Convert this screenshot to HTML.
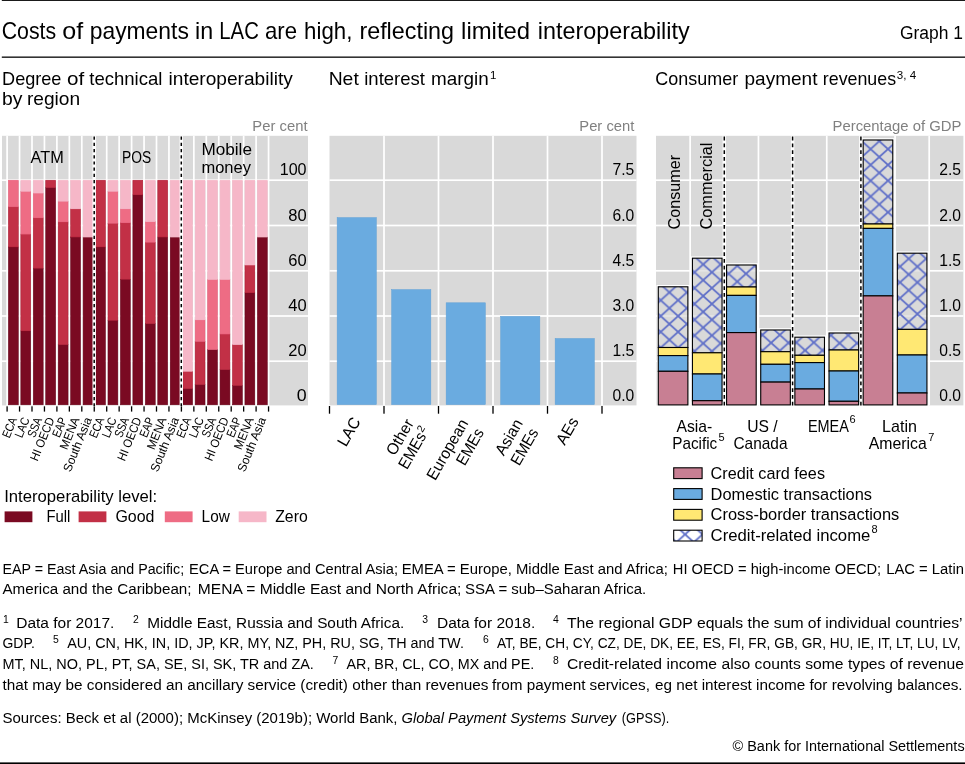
<!DOCTYPE html>
<html lang="en"><head><meta charset="utf-8"><title>Graph 1</title>
<style>
html,body{margin:0;padding:0;background:#fff}
body{width:965px;height:764px;overflow:hidden}
svg{display:block;font-family:"Liberation Sans", sans-serif}
svg text{white-space:pre}
</style></head><body>
<svg width="965" height="764" viewBox="0 0 965 764">
<rect x="1.8" y="0" width="963.2" height="0.9" fill="#000"/>
<rect x="1.8" y="56.4" width="963.2" height="1.6" fill="#333"/>
<rect x="0" y="762.4" width="965" height="1.6" fill="#000"/>
<text x="1.72" y="38.50" font-size="24" textLength="54.4" lengthAdjust="spacingAndGlyphs">Costs</text>
<text x="62.32" y="38.50" font-size="24" textLength="20.9" lengthAdjust="spacingAndGlyphs">of</text>
<text x="89.72" y="38.50" font-size="24" textLength="99.1" lengthAdjust="spacingAndGlyphs">payments</text>
<text x="195.02" y="38.50" font-size="24" textLength="18.1" lengthAdjust="spacingAndGlyphs">in</text>
<text x="219.32" y="38.50" font-size="24" textLength="39.5" lengthAdjust="spacingAndGlyphs">LAC</text>
<text x="265.02" y="38.50" font-size="24" textLength="32.0" lengthAdjust="spacingAndGlyphs">are</text>
<text x="304.12" y="38.50" font-size="24" textLength="48.2" lengthAdjust="spacingAndGlyphs">high,</text>
<text x="359.42" y="38.50" font-size="24" textLength="94.6" lengthAdjust="spacingAndGlyphs">reflecting</text>
<text x="461.12" y="38.50" font-size="24" textLength="69.0" lengthAdjust="spacingAndGlyphs">limited</text>
<text x="537.82" y="38.50" font-size="24" textLength="151.8" lengthAdjust="spacingAndGlyphs">interoperability</text>
<text x="963.00" y="38.80" font-size="18" text-anchor="end" textLength="63" lengthAdjust="spacingAndGlyphs">Graph 1</text>
<text x="2.06" y="84.60" font-size="18.6" textLength="59.4" lengthAdjust="spacingAndGlyphs">Degree</text>
<text x="66.96" y="84.60" font-size="18.6" textLength="17.2" lengthAdjust="spacingAndGlyphs">of</text>
<text x="89.26" y="84.60" font-size="18.6" textLength="73.2" lengthAdjust="spacingAndGlyphs">technical</text>
<text x="168.56" y="84.60" font-size="18.6" textLength="124.3" lengthAdjust="spacingAndGlyphs">interoperability</text>
<text x="2.06" y="105.00" font-size="18.6" textLength="20.4" lengthAdjust="spacingAndGlyphs">by</text>
<text x="26.96" y="105.00" font-size="18.6" textLength="53.2" lengthAdjust="spacingAndGlyphs">region</text>
<text x="328.66" y="84.50" font-size="18.6" textLength="30.1" lengthAdjust="spacingAndGlyphs">Net</text>
<text x="364.26" y="84.50" font-size="18.6" textLength="60.7" lengthAdjust="spacingAndGlyphs">interest</text>
<text x="431.06" y="84.50" font-size="18.6" textLength="57.7" lengthAdjust="spacingAndGlyphs">margin</text>
<text x="490.00" y="79.00" font-size="11.5">1</text>
<text x="655.36" y="84.50" font-size="18.6" textLength="82.8" lengthAdjust="spacingAndGlyphs">Consumer</text>
<text x="744.56" y="84.50" font-size="18.6" textLength="72.9" lengthAdjust="spacingAndGlyphs">payment</text>
<text x="822.86" y="84.50" font-size="18.6" textLength="73.2" lengthAdjust="spacingAndGlyphs">revenues</text>
<text x="896.80" y="79.00" font-size="11.5" textLength="19.3" lengthAdjust="spacingAndGlyphs">3, 4</text>
<rect x="2.0" y="135.8" width="306.0" height="269.59999999999997" fill="#d9d9d9"/>
<rect x="6.25" y="135.8" width="1.7" height="269.59999999999997" fill="#fff"/>
<rect x="18.70" y="135.8" width="1.7" height="269.59999999999997" fill="#fff"/>
<rect x="31.15" y="135.8" width="1.7" height="269.59999999999997" fill="#fff"/>
<rect x="43.60" y="135.8" width="1.7" height="269.59999999999997" fill="#fff"/>
<rect x="56.05" y="135.8" width="1.7" height="269.59999999999997" fill="#fff"/>
<rect x="68.50" y="135.8" width="1.7" height="269.59999999999997" fill="#fff"/>
<rect x="80.95" y="135.8" width="1.7" height="269.59999999999997" fill="#fff"/>
<rect x="93.40" y="135.8" width="1.7" height="269.59999999999997" fill="#fff"/>
<rect x="105.85" y="135.8" width="1.7" height="269.59999999999997" fill="#fff"/>
<rect x="118.30" y="135.8" width="1.7" height="269.59999999999997" fill="#fff"/>
<rect x="130.75" y="135.8" width="1.7" height="269.59999999999997" fill="#fff"/>
<rect x="143.20" y="135.8" width="1.7" height="269.59999999999997" fill="#fff"/>
<rect x="155.65" y="135.8" width="1.7" height="269.59999999999997" fill="#fff"/>
<rect x="168.10" y="135.8" width="1.7" height="269.59999999999997" fill="#fff"/>
<rect x="180.55" y="135.8" width="1.7" height="269.59999999999997" fill="#fff"/>
<rect x="193.00" y="135.8" width="1.7" height="269.59999999999997" fill="#fff"/>
<rect x="205.45" y="135.8" width="1.7" height="269.59999999999997" fill="#fff"/>
<rect x="217.90" y="135.8" width="1.7" height="269.59999999999997" fill="#fff"/>
<rect x="230.35" y="135.8" width="1.7" height="269.59999999999997" fill="#fff"/>
<rect x="242.80" y="135.8" width="1.7" height="269.59999999999997" fill="#fff"/>
<rect x="255.25" y="135.8" width="1.7" height="269.59999999999997" fill="#fff"/>
<rect x="267.70" y="135.8" width="1.7" height="269.59999999999997" fill="#fff"/>
<rect x="2.0" y="179.35" width="306.0" height="1.7" fill="#fff"/>
<rect x="2.0" y="224.65" width="306.0" height="1.7" fill="#fff"/>
<rect x="2.0" y="269.95" width="306.0" height="1.7" fill="#fff"/>
<rect x="2.0" y="315.15" width="306.0" height="1.7" fill="#fff"/>
<rect x="2.0" y="360.35" width="306.0" height="1.7" fill="#fff"/>
<rect x="8.40" y="246.98" width="9.85" height="157.82" fill="#7a0a22" stroke="#6a0018" stroke-width="0.5"/>
<rect x="8.40" y="206.82" width="9.85" height="40.16" fill="#c23046" stroke="#b01830" stroke-width="0.5"/>
<rect x="8.40" y="180.20" width="9.85" height="26.62" fill="#ee6c84" stroke="#e85c78" stroke-width="0.5"/>
<rect x="20.85" y="330.90" width="9.85" height="73.90" fill="#7a0a22" stroke="#6a0018" stroke-width="0.5"/>
<rect x="20.85" y="234.12" width="9.85" height="96.78" fill="#c23046" stroke="#b01830" stroke-width="0.5"/>
<rect x="20.85" y="191.25" width="9.85" height="42.86" fill="#ee6c84" stroke="#e85c78" stroke-width="0.5"/>
<rect x="20.85" y="180.20" width="9.85" height="11.05" fill="#f6b7c8" stroke="#f6b7c8" stroke-width="0.5"/>
<rect x="33.30" y="268.18" width="9.85" height="136.62" fill="#7a0a22" stroke="#6a0018" stroke-width="0.5"/>
<rect x="33.30" y="217.88" width="9.85" height="50.31" fill="#c23046" stroke="#b01830" stroke-width="0.5"/>
<rect x="33.30" y="193.06" width="9.85" height="24.82" fill="#ee6c84" stroke="#e85c78" stroke-width="0.5"/>
<rect x="33.30" y="180.20" width="9.85" height="12.86" fill="#f6b7c8" stroke="#f6b7c8" stroke-width="0.5"/>
<rect x="45.75" y="187.64" width="9.85" height="217.16" fill="#7a0a22" stroke="#6a0018" stroke-width="0.5"/>
<rect x="45.75" y="180.20" width="9.85" height="7.44" fill="#c23046" stroke="#b01830" stroke-width="0.5"/>
<rect x="58.20" y="344.66" width="9.85" height="60.14" fill="#7a0a22" stroke="#6a0018" stroke-width="0.5"/>
<rect x="58.20" y="221.94" width="9.85" height="122.73" fill="#c23046" stroke="#b01830" stroke-width="0.5"/>
<rect x="58.20" y="201.18" width="9.85" height="20.76" fill="#ee6c84" stroke="#e85c78" stroke-width="0.5"/>
<rect x="58.20" y="180.20" width="9.85" height="20.98" fill="#f6b7c8" stroke="#f6b7c8" stroke-width="0.5"/>
<rect x="70.65" y="237.05" width="9.85" height="167.75" fill="#7a0a22" stroke="#6a0018" stroke-width="0.5"/>
<rect x="70.65" y="208.85" width="9.85" height="28.20" fill="#c23046" stroke="#b01830" stroke-width="0.5"/>
<rect x="70.65" y="180.20" width="9.85" height="28.65" fill="#f6b7c8" stroke="#f6b7c8" stroke-width="0.5"/>
<rect x="83.10" y="237.05" width="9.85" height="167.75" fill="#7a0a22" stroke="#6a0018" stroke-width="0.5"/>
<rect x="83.10" y="180.20" width="9.85" height="56.85" fill="#f6b7c8" stroke="#f6b7c8" stroke-width="0.5"/>
<rect x="95.55" y="246.98" width="9.85" height="157.82" fill="#7a0a22" stroke="#6a0018" stroke-width="0.5"/>
<rect x="95.55" y="180.20" width="9.85" height="66.78" fill="#c23046" stroke="#b01830" stroke-width="0.5"/>
<rect x="108.00" y="320.30" width="9.85" height="84.50" fill="#7a0a22" stroke="#6a0018" stroke-width="0.5"/>
<rect x="108.00" y="223.29" width="9.85" height="97.01" fill="#c23046" stroke="#b01830" stroke-width="0.5"/>
<rect x="108.00" y="191.25" width="9.85" height="32.04" fill="#ee6c84" stroke="#e85c78" stroke-width="0.5"/>
<rect x="108.00" y="180.20" width="9.85" height="11.05" fill="#f6b7c8" stroke="#f6b7c8" stroke-width="0.5"/>
<rect x="120.45" y="279.24" width="9.85" height="125.56" fill="#7a0a22" stroke="#6a0018" stroke-width="0.5"/>
<rect x="120.45" y="222.84" width="9.85" height="56.40" fill="#c23046" stroke="#b01830" stroke-width="0.5"/>
<rect x="120.45" y="208.85" width="9.85" height="13.99" fill="#ee6c84" stroke="#e85c78" stroke-width="0.5"/>
<rect x="120.45" y="180.20" width="9.85" height="28.65" fill="#f6b7c8" stroke="#f6b7c8" stroke-width="0.5"/>
<rect x="132.90" y="194.86" width="9.85" height="209.94" fill="#7a0a22" stroke="#6a0018" stroke-width="0.5"/>
<rect x="132.90" y="180.20" width="9.85" height="14.66" fill="#c23046" stroke="#b01830" stroke-width="0.5"/>
<rect x="145.35" y="323.68" width="9.85" height="81.12" fill="#7a0a22" stroke="#6a0018" stroke-width="0.5"/>
<rect x="145.35" y="242.24" width="9.85" height="81.44" fill="#c23046" stroke="#b01830" stroke-width="0.5"/>
<rect x="145.35" y="221.71" width="9.85" height="20.53" fill="#ee6c84" stroke="#e85c78" stroke-width="0.5"/>
<rect x="145.35" y="180.20" width="9.85" height="41.51" fill="#f6b7c8" stroke="#f6b7c8" stroke-width="0.5"/>
<rect x="157.80" y="237.05" width="9.85" height="167.75" fill="#7a0a22" stroke="#6a0018" stroke-width="0.5"/>
<rect x="157.80" y="180.20" width="9.85" height="56.85" fill="#c23046" stroke="#b01830" stroke-width="0.5"/>
<rect x="170.25" y="237.05" width="9.85" height="167.75" fill="#7a0a22" stroke="#6a0018" stroke-width="0.5"/>
<rect x="170.25" y="180.20" width="9.85" height="56.85" fill="#f6b7c8" stroke="#f6b7c8" stroke-width="0.5"/>
<rect x="182.70" y="388.65" width="9.85" height="16.15" fill="#7a0a22" stroke="#6a0018" stroke-width="0.5"/>
<rect x="182.70" y="371.28" width="9.85" height="17.37" fill="#c23046" stroke="#b01830" stroke-width="0.5"/>
<rect x="182.70" y="180.20" width="9.85" height="191.08" fill="#f6b7c8" stroke="#f6b7c8" stroke-width="0.5"/>
<rect x="195.15" y="384.59" width="9.85" height="20.21" fill="#7a0a22" stroke="#6a0018" stroke-width="0.5"/>
<rect x="195.15" y="341.50" width="9.85" height="43.09" fill="#c23046" stroke="#b01830" stroke-width="0.5"/>
<rect x="195.15" y="319.85" width="9.85" height="21.66" fill="#ee6c84" stroke="#e85c78" stroke-width="0.5"/>
<rect x="195.15" y="180.20" width="9.85" height="139.65" fill="#f6b7c8" stroke="#f6b7c8" stroke-width="0.5"/>
<rect x="207.60" y="349.63" width="9.85" height="55.17" fill="#7a0a22" stroke="#6a0018" stroke-width="0.5"/>
<rect x="207.60" y="279.46" width="9.85" height="70.16" fill="#ee6c84" stroke="#e85c78" stroke-width="0.5"/>
<rect x="207.60" y="180.20" width="9.85" height="99.26" fill="#f6b7c8" stroke="#f6b7c8" stroke-width="0.5"/>
<rect x="220.05" y="369.70" width="9.85" height="35.10" fill="#7a0a22" stroke="#6a0018" stroke-width="0.5"/>
<rect x="220.05" y="334.06" width="9.85" height="35.64" fill="#c23046" stroke="#b01830" stroke-width="0.5"/>
<rect x="220.05" y="279.46" width="9.85" height="54.60" fill="#ee6c84" stroke="#e85c78" stroke-width="0.5"/>
<rect x="220.05" y="180.20" width="9.85" height="99.26" fill="#f6b7c8" stroke="#f6b7c8" stroke-width="0.5"/>
<rect x="232.50" y="385.50" width="9.85" height="19.30" fill="#7a0a22" stroke="#6a0018" stroke-width="0.5"/>
<rect x="232.50" y="344.66" width="9.85" height="40.83" fill="#c23046" stroke="#b01830" stroke-width="0.5"/>
<rect x="232.50" y="180.20" width="9.85" height="164.46" fill="#f6b7c8" stroke="#f6b7c8" stroke-width="0.5"/>
<rect x="244.95" y="292.77" width="9.85" height="112.03" fill="#7a0a22" stroke="#6a0018" stroke-width="0.5"/>
<rect x="244.95" y="265.03" width="9.85" height="27.75" fill="#c23046" stroke="#b01830" stroke-width="0.5"/>
<rect x="244.95" y="180.20" width="9.85" height="84.83" fill="#f6b7c8" stroke="#f6b7c8" stroke-width="0.5"/>
<rect x="257.40" y="237.05" width="9.85" height="167.75" fill="#7a0a22" stroke="#6a0018" stroke-width="0.5"/>
<rect x="257.40" y="180.20" width="9.85" height="56.85" fill="#f6b7c8" stroke="#f6b7c8" stroke-width="0.5"/>
<rect x="92.5" y="135.8" width="3.4" height="269.59999999999997" fill="#fff"/>
<line x1="94.2" y1="136.60000000000002" x2="94.2" y2="406.0" stroke="#000" stroke-width="1.5" stroke-dasharray="3.2 3"/>
<rect x="179.60000000000002" y="135.8" width="3.4" height="269.59999999999997" fill="#fff"/>
<line x1="181.3" y1="136.60000000000002" x2="181.3" y2="406.0" stroke="#000" stroke-width="1.5" stroke-dasharray="3.2 3"/>
<rect x="6.45" y="406.3" width="1.3" height="5.3" fill="#000"/>
<rect x="18.90" y="406.3" width="1.3" height="5.3" fill="#000"/>
<rect x="31.35" y="406.3" width="1.3" height="5.3" fill="#000"/>
<rect x="43.80" y="406.3" width="1.3" height="5.3" fill="#000"/>
<rect x="56.25" y="406.3" width="1.3" height="5.3" fill="#000"/>
<rect x="68.70" y="406.3" width="1.3" height="5.3" fill="#000"/>
<rect x="81.15" y="406.3" width="1.3" height="5.3" fill="#000"/>
<rect x="93.60" y="406.3" width="1.3" height="5.3" fill="#000"/>
<rect x="106.05" y="406.3" width="1.3" height="5.3" fill="#000"/>
<rect x="118.50" y="406.3" width="1.3" height="5.3" fill="#000"/>
<rect x="130.95" y="406.3" width="1.3" height="5.3" fill="#000"/>
<rect x="143.40" y="406.3" width="1.3" height="5.3" fill="#000"/>
<rect x="155.85" y="406.3" width="1.3" height="5.3" fill="#000"/>
<rect x="168.30" y="406.3" width="1.3" height="5.3" fill="#000"/>
<rect x="180.75" y="406.3" width="1.3" height="5.3" fill="#000"/>
<rect x="193.20" y="406.3" width="1.3" height="5.3" fill="#000"/>
<rect x="205.65" y="406.3" width="1.3" height="5.3" fill="#000"/>
<rect x="218.10" y="406.3" width="1.3" height="5.3" fill="#000"/>
<rect x="230.55" y="406.3" width="1.3" height="5.3" fill="#000"/>
<rect x="243.00" y="406.3" width="1.3" height="5.3" fill="#000"/>
<rect x="255.45" y="406.3" width="1.3" height="5.3" fill="#000"/>
<rect x="267.90" y="406.3" width="1.3" height="5.3" fill="#000"/>
<text transform="translate(17.32 419.40) rotate(-68)" font-size="12.2" text-anchor="end" textLength="21" lengthAdjust="spacingAndGlyphs">ECA</text>
<text transform="translate(29.77 419.40) rotate(-68)" font-size="12.2" text-anchor="end" textLength="20.6" lengthAdjust="spacingAndGlyphs">LAC</text>
<text transform="translate(42.23 419.40) rotate(-68)" font-size="12.2" text-anchor="end" textLength="20.3" lengthAdjust="spacingAndGlyphs">SSA</text>
<text transform="translate(54.67 419.40) rotate(-68)" font-size="12.2" text-anchor="end" textLength="45.6" lengthAdjust="spacingAndGlyphs">HI OECD</text>
<text transform="translate(67.12 419.40) rotate(-68)" font-size="12.2" text-anchor="end" textLength="20.3" lengthAdjust="spacingAndGlyphs">EAP</text>
<text transform="translate(79.57 419.40) rotate(-68)" font-size="12.2" text-anchor="end" textLength="33.5" lengthAdjust="spacingAndGlyphs">MENA</text>
<text transform="translate(92.02 419.40) rotate(-68)" font-size="12.2" text-anchor="end" textLength="57.5" lengthAdjust="spacingAndGlyphs">South Asia</text>
<text transform="translate(104.47 419.40) rotate(-68)" font-size="12.2" text-anchor="end" textLength="21" lengthAdjust="spacingAndGlyphs">ECA</text>
<text transform="translate(116.92 419.40) rotate(-68)" font-size="12.2" text-anchor="end" textLength="20.6" lengthAdjust="spacingAndGlyphs">LAC</text>
<text transform="translate(129.38 419.40) rotate(-68)" font-size="12.2" text-anchor="end" textLength="20.3" lengthAdjust="spacingAndGlyphs">SSA</text>
<text transform="translate(141.82 419.40) rotate(-68)" font-size="12.2" text-anchor="end" textLength="45.6" lengthAdjust="spacingAndGlyphs">HI OECD</text>
<text transform="translate(154.27 419.40) rotate(-68)" font-size="12.2" text-anchor="end" textLength="20.3" lengthAdjust="spacingAndGlyphs">EAP</text>
<text transform="translate(166.72 419.40) rotate(-68)" font-size="12.2" text-anchor="end" textLength="33.5" lengthAdjust="spacingAndGlyphs">MENA</text>
<text transform="translate(179.17 419.40) rotate(-68)" font-size="12.2" text-anchor="end" textLength="57.5" lengthAdjust="spacingAndGlyphs">South Asia</text>
<text transform="translate(191.62 419.40) rotate(-68)" font-size="12.2" text-anchor="end" textLength="21" lengthAdjust="spacingAndGlyphs">ECA</text>
<text transform="translate(204.07 419.40) rotate(-68)" font-size="12.2" text-anchor="end" textLength="20.6" lengthAdjust="spacingAndGlyphs">LAC</text>
<text transform="translate(216.52 419.40) rotate(-68)" font-size="12.2" text-anchor="end" textLength="20.3" lengthAdjust="spacingAndGlyphs">SSA</text>
<text transform="translate(228.97 419.40) rotate(-68)" font-size="12.2" text-anchor="end" textLength="45.6" lengthAdjust="spacingAndGlyphs">HI OECD</text>
<text transform="translate(241.42 419.40) rotate(-68)" font-size="12.2" text-anchor="end" textLength="20.3" lengthAdjust="spacingAndGlyphs">EAP</text>
<text transform="translate(253.87 419.40) rotate(-68)" font-size="12.2" text-anchor="end" textLength="33.5" lengthAdjust="spacingAndGlyphs">MENA</text>
<text transform="translate(266.33 419.40) rotate(-68)" font-size="12.2" text-anchor="end" textLength="57.5" lengthAdjust="spacingAndGlyphs">South Asia</text>
<text x="307.50" y="130.60" font-size="15.2" text-anchor="end" fill="#808080" textLength="55.2" lengthAdjust="spacingAndGlyphs">Per cent</text>
<text x="306.60" y="175.30" font-size="16.4" text-anchor="end" textLength="26.9" lengthAdjust="spacingAndGlyphs">100</text>
<text x="306.60" y="220.60" font-size="16.4" text-anchor="end" textLength="18.4" lengthAdjust="spacingAndGlyphs">80</text>
<text x="306.60" y="265.90" font-size="16.4" text-anchor="end" textLength="18.4" lengthAdjust="spacingAndGlyphs">60</text>
<text x="306.60" y="311.10" font-size="16.4" text-anchor="end" textLength="18.4" lengthAdjust="spacingAndGlyphs">40</text>
<text x="306.60" y="356.30" font-size="16.4" text-anchor="end" textLength="18.4" lengthAdjust="spacingAndGlyphs">20</text>
<text x="306.60" y="401.10" font-size="16.4" text-anchor="end" textLength="9.9" lengthAdjust="spacingAndGlyphs">0</text>
<text x="30.60" y="162.50" font-size="16" textLength="33.2" lengthAdjust="spacingAndGlyphs">ATM</text>
<text x="122.10" y="162.50" font-size="16" textLength="29.1" lengthAdjust="spacingAndGlyphs">POS</text>
<text x="201.40" y="154.70" font-size="16" textLength="50.6" lengthAdjust="spacingAndGlyphs">Mobile</text>
<text x="201.40" y="172.70" font-size="16" textLength="49.5" lengthAdjust="spacingAndGlyphs">money</text>
<text x="4.20" y="501.70" font-size="16.4" textLength="153" lengthAdjust="spacingAndGlyphs">Interoperability level:</text>
<rect x="4.6" y="511.4" width="27.8" height="10.8" fill="#7a0a22"/>
<text x="46.40" y="522.20" font-size="16.4" textLength="23.9" lengthAdjust="spacingAndGlyphs">Full</text>
<rect x="78.6" y="511.4" width="27.8" height="10.8" fill="#c23046"/>
<text x="115.40" y="522.20" font-size="16.4" textLength="39.1" lengthAdjust="spacingAndGlyphs">Good</text>
<rect x="164.8" y="511.4" width="27.8" height="10.8" fill="#ee6c84"/>
<text x="201.60" y="522.20" font-size="16.4" textLength="28.2" lengthAdjust="spacingAndGlyphs">Low</text>
<rect x="238.7" y="511.4" width="27.8" height="10.8" fill="#f6b7c8"/>
<text x="275.20" y="522.20" font-size="16.4" textLength="32.5" lengthAdjust="spacingAndGlyphs">Zero</text>
<rect x="329.5" y="135.8" width="307.0" height="269.59999999999997" fill="#d9d9d9"/>
<rect x="383.15" y="135.8" width="1.7" height="269.59999999999997" fill="#fff"/>
<rect x="437.65" y="135.8" width="1.7" height="269.59999999999997" fill="#fff"/>
<rect x="492.15" y="135.8" width="1.7" height="269.59999999999997" fill="#fff"/>
<rect x="546.65" y="135.8" width="1.7" height="269.59999999999997" fill="#fff"/>
<rect x="601.15" y="135.8" width="1.7" height="269.59999999999997" fill="#fff"/>
<rect x="329.5" y="179.35" width="307.0" height="1.7" fill="#fff"/>
<rect x="329.5" y="224.65" width="307.0" height="1.7" fill="#fff"/>
<rect x="329.5" y="269.95" width="307.0" height="1.7" fill="#fff"/>
<rect x="329.5" y="315.15" width="307.0" height="1.7" fill="#fff"/>
<rect x="329.5" y="360.35" width="307.0" height="1.7" fill="#fff"/>
<rect x="337.15" y="217.6" width="39.2" height="187.00" fill="#6aabe0" stroke="#5e9fd6" stroke-width="0.5"/>
<rect x="391.65" y="289.6" width="39.2" height="115.00" fill="#6aabe0" stroke="#5e9fd6" stroke-width="0.5"/>
<rect x="446.15" y="302.8" width="39.2" height="101.80" fill="#6aabe0" stroke="#5e9fd6" stroke-width="0.5"/>
<rect x="500.65" y="316.3" width="39.2" height="88.30" fill="#6aabe0" stroke="#5e9fd6" stroke-width="0.5"/>
<rect x="555.15" y="338.5" width="39.2" height="66.10" fill="#6aabe0" stroke="#5e9fd6" stroke-width="0.5"/>
<rect x="328.85" y="406.0" width="1.3" height="7.7" fill="#000"/>
<rect x="383.35" y="406.0" width="1.3" height="7.7" fill="#000"/>
<rect x="437.85" y="406.0" width="1.3" height="7.7" fill="#000"/>
<rect x="492.35" y="406.0" width="1.3" height="7.7" fill="#000"/>
<rect x="546.85" y="406.0" width="1.3" height="7.7" fill="#000"/>
<rect x="601.35" y="406.0" width="1.3" height="7.7" fill="#000"/>
<text x="634.30" y="130.60" font-size="15.2" text-anchor="end" fill="#808080" textLength="55.0" lengthAdjust="spacingAndGlyphs">Per cent</text>
<text x="634.30" y="175.30" font-size="16.4" text-anchor="end" textLength="21.8" lengthAdjust="spacingAndGlyphs">7.5</text>
<text x="634.30" y="220.60" font-size="16.4" text-anchor="end" textLength="21.8" lengthAdjust="spacingAndGlyphs">6.0</text>
<text x="634.30" y="265.90" font-size="16.4" text-anchor="end" textLength="21.8" lengthAdjust="spacingAndGlyphs">4.5</text>
<text x="634.30" y="311.10" font-size="16.4" text-anchor="end" textLength="21.8" lengthAdjust="spacingAndGlyphs">3.0</text>
<text x="634.30" y="356.30" font-size="16.4" text-anchor="end" textLength="21.8" lengthAdjust="spacingAndGlyphs">1.5</text>
<text x="634.30" y="401.10" font-size="16.4" text-anchor="end" textLength="21.8" lengthAdjust="spacingAndGlyphs">0.0</text>
<text transform="translate(361.05 421.30) rotate(-60)" font-size="16" text-anchor="end" textLength="30.2" lengthAdjust="spacingAndGlyphs">LAC</text>
<text transform="translate(414.25 423.00) rotate(-60)" font-size="16" text-anchor="end" textLength="38.8" lengthAdjust="spacingAndGlyphs">Other</text>
<text transform="translate(426.75 436.10) rotate(-60)" font-size="16" text-anchor="end" textLength="39.5" lengthAdjust="spacingAndGlyphs">EMEs</text>
<text transform="translate(422.40 433.10) rotate(-60)" font-size="10.5">2</text>
<text transform="translate(468.75 423.00) rotate(-60)" font-size="16" text-anchor="end" textLength="67.2" lengthAdjust="spacingAndGlyphs">European</text>
<text transform="translate(484.45 432.30) rotate(-60)" font-size="16" text-anchor="end" textLength="39.5" lengthAdjust="spacingAndGlyphs">EMEs</text>
<text transform="translate(523.25 423.00) rotate(-60)" font-size="16" text-anchor="end" textLength="38.8" lengthAdjust="spacingAndGlyphs">Asian</text>
<text transform="translate(538.95 432.30) rotate(-60)" font-size="16" text-anchor="end" textLength="39.5" lengthAdjust="spacingAndGlyphs">EMEs</text>
<text transform="translate(579.05 421.30) rotate(-60)" font-size="16" text-anchor="end" textLength="28.4" lengthAdjust="spacingAndGlyphs">AEs</text>
<rect x="656.0" y="135.8" width="307.4" height="269.59999999999997" fill="#d9d9d9"/>
<rect x="689.30" y="135.8" width="1.7" height="269.59999999999997" fill="#fff"/>
<rect x="722.60" y="135.8" width="3.4" height="269.59999999999997" fill="#fff"/>
<rect x="757.60" y="135.8" width="1.7" height="269.59999999999997" fill="#fff"/>
<rect x="790.90" y="135.8" width="3.4" height="269.59999999999997" fill="#fff"/>
<rect x="825.90" y="135.8" width="1.7" height="269.59999999999997" fill="#fff"/>
<rect x="859.20" y="135.8" width="3.4" height="269.59999999999997" fill="#fff"/>
<rect x="894.20" y="135.8" width="1.7" height="269.59999999999997" fill="#fff"/>
<rect x="928.35" y="135.8" width="1.7" height="269.59999999999997" fill="#fff"/>
<rect x="656.0" y="179.35" width="307.4" height="1.7" fill="#fff"/>
<rect x="656.0" y="224.65" width="307.4" height="1.7" fill="#fff"/>
<rect x="656.0" y="269.95" width="307.4" height="1.7" fill="#fff"/>
<rect x="656.0" y="315.15" width="307.4" height="1.7" fill="#fff"/>
<rect x="656.0" y="360.35" width="307.4" height="1.7" fill="#fff"/>
<defs><pattern id="hx0" patternUnits="userSpaceOnUse" x="669.4" y="292.4" width="17.4" height="15.8"><path d="M-1 -0.908 L18.4 16.708 M-1 16.708 L18.4 -0.908" stroke="#6070c8" stroke-width="1.8" fill="none"/></pattern><pattern id="hx1" patternUnits="userSpaceOnUse" x="703.2" y="264.4" width="17.4" height="15.8"><path d="M-1 -0.908 L18.4 16.708 M-1 16.708 L18.4 -0.908" stroke="#6070c8" stroke-width="1.8" fill="none"/></pattern><pattern id="hx2" patternUnits="userSpaceOnUse" x="737.3" y="281.6" width="17.4" height="15.8"><path d="M-1 -0.908 L18.4 16.708 M-1 16.708 L18.4 -0.908" stroke="#6070c8" stroke-width="1.8" fill="none"/></pattern><pattern id="hx3" patternUnits="userSpaceOnUse" x="771.1" y="342.8" width="17.4" height="15.8"><path d="M-1 -0.908 L18.4 16.708 M-1 16.708 L18.4 -0.908" stroke="#6070c8" stroke-width="1.8" fill="none"/></pattern><pattern id="hx4" patternUnits="userSpaceOnUse" x="805.1" y="350.4" width="17.4" height="15.8"><path d="M-1 -0.908 L18.4 16.708 M-1 16.708 L18.4 -0.908" stroke="#6070c8" stroke-width="1.8" fill="none"/></pattern><pattern id="hx5" patternUnits="userSpaceOnUse" x="839.6" y="343.2" width="17.4" height="15.8"><path d="M-1 -0.908 L18.4 16.708 M-1 16.708 L18.4 -0.908" stroke="#6070c8" stroke-width="1.8" fill="none"/></pattern><pattern id="hx6" patternUnits="userSpaceOnUse" x="879.3" y="141.2" width="17.4" height="15.8"><path d="M-1 -0.908 L18.4 16.708 M-1 16.708 L18.4 -0.908" stroke="#6070c8" stroke-width="1.8" fill="none"/></pattern><pattern id="hx7" patternUnits="userSpaceOnUse" x="908.7" y="258.7" width="17.4" height="15.8"><path d="M-1 -0.908 L18.4 16.708 M-1 16.708 L18.4 -0.908" stroke="#6070c8" stroke-width="1.8" fill="none"/></pattern></defs>
<rect x="657.18" y="285.70" width="31.8" height="120.30" fill="none" stroke="#fff" stroke-width="1.4"/>
<rect x="658.28" y="286.8" width="29.6" height="60.70" fill="#d9d9d9" fill-opacity="0.7"/>
<rect x="658.28" y="286.8" width="29.6" height="60.70" fill="url(#hx0)" stroke="#000" stroke-width="1.1"/>
<rect x="658.28" y="347.5" width="29.6" height="8.10" fill="#ffe873" stroke="#000" stroke-width="1.1"/>
<rect x="658.28" y="355.6" width="29.6" height="15.70" fill="#6aabe0" stroke="#000" stroke-width="1.1"/>
<rect x="658.28" y="371.3" width="29.6" height="33.60" fill="#c87f93" stroke="#000" stroke-width="1.1"/>
<rect x="691.33" y="257.10" width="31.8" height="148.90" fill="none" stroke="#fff" stroke-width="1.4"/>
<rect x="692.43" y="258.2" width="29.6" height="94.60" fill="#d9d9d9" fill-opacity="0.7"/>
<rect x="692.43" y="258.2" width="29.6" height="94.60" fill="url(#hx1)" stroke="#000" stroke-width="1.1"/>
<rect x="692.43" y="352.8" width="29.6" height="21.20" fill="#ffe873" stroke="#000" stroke-width="1.1"/>
<rect x="692.43" y="374.0" width="29.6" height="26.70" fill="#6aabe0" stroke="#000" stroke-width="1.1"/>
<rect x="692.43" y="400.7" width="29.6" height="4.20" fill="#c87f93" stroke="#000" stroke-width="1.1"/>
<rect x="725.48" y="263.90" width="31.8" height="142.10" fill="none" stroke="#fff" stroke-width="1.4"/>
<rect x="726.58" y="265.0" width="29.6" height="22.00" fill="#d9d9d9" fill-opacity="0.7"/>
<rect x="726.58" y="265.0" width="29.6" height="22.00" fill="url(#hx2)" stroke="#000" stroke-width="1.1"/>
<rect x="726.58" y="287.0" width="29.6" height="8.40" fill="#ffe873" stroke="#000" stroke-width="1.1"/>
<rect x="726.58" y="295.4" width="29.6" height="37.20" fill="#6aabe0" stroke="#000" stroke-width="1.1"/>
<rect x="726.58" y="332.6" width="29.6" height="72.30" fill="#c87f93" stroke="#000" stroke-width="1.1"/>
<rect x="759.63" y="328.90" width="31.8" height="77.10" fill="none" stroke="#fff" stroke-width="1.4"/>
<rect x="760.73" y="330.0" width="29.6" height="21.70" fill="#d9d9d9" fill-opacity="0.7"/>
<rect x="760.73" y="330.0" width="29.6" height="21.70" fill="url(#hx3)" stroke="#000" stroke-width="1.1"/>
<rect x="760.73" y="351.7" width="29.6" height="12.60" fill="#ffe873" stroke="#000" stroke-width="1.1"/>
<rect x="760.73" y="364.3" width="29.6" height="17.80" fill="#6aabe0" stroke="#000" stroke-width="1.1"/>
<rect x="760.73" y="382.1" width="29.6" height="22.80" fill="#c87f93" stroke="#000" stroke-width="1.1"/>
<rect x="793.78" y="336.10" width="31.8" height="69.90" fill="none" stroke="#fff" stroke-width="1.4"/>
<rect x="794.88" y="337.2" width="29.6" height="18.10" fill="#d9d9d9" fill-opacity="0.7"/>
<rect x="794.88" y="337.2" width="29.6" height="18.10" fill="url(#hx4)" stroke="#000" stroke-width="1.1"/>
<rect x="794.88" y="355.3" width="29.6" height="7.30" fill="#ffe873" stroke="#000" stroke-width="1.1"/>
<rect x="794.88" y="362.6" width="29.6" height="26.40" fill="#6aabe0" stroke="#000" stroke-width="1.1"/>
<rect x="794.88" y="389.0" width="29.6" height="15.90" fill="#c87f93" stroke="#000" stroke-width="1.1"/>
<rect x="827.93" y="331.90" width="31.8" height="74.10" fill="none" stroke="#fff" stroke-width="1.4"/>
<rect x="829.03" y="333.0" width="29.6" height="17.00" fill="#d9d9d9" fill-opacity="0.7"/>
<rect x="829.03" y="333.0" width="29.6" height="17.00" fill="url(#hx5)" stroke="#000" stroke-width="1.1"/>
<rect x="829.03" y="350.0" width="29.6" height="21.00" fill="#ffe873" stroke="#000" stroke-width="1.1"/>
<rect x="829.03" y="371.0" width="29.6" height="30.30" fill="#6aabe0" stroke="#000" stroke-width="1.1"/>
<rect x="829.03" y="401.3" width="29.6" height="3.60" fill="#c87f93" stroke="#000" stroke-width="1.1"/>
<rect x="862.08" y="138.90" width="31.8" height="267.10" fill="none" stroke="#fff" stroke-width="1.4"/>
<rect x="863.18" y="140.0" width="29.6" height="84.00" fill="#d9d9d9" fill-opacity="0.7"/>
<rect x="863.18" y="140.0" width="29.6" height="84.00" fill="url(#hx6)" stroke="#000" stroke-width="1.1"/>
<rect x="863.18" y="224.0" width="29.6" height="4.40" fill="#ffe873" stroke="#000" stroke-width="1.1"/>
<rect x="863.18" y="228.4" width="29.6" height="67.50" fill="#6aabe0" stroke="#000" stroke-width="1.1"/>
<rect x="863.18" y="295.9" width="29.6" height="109.00" fill="#c87f93" stroke="#000" stroke-width="1.1"/>
<rect x="896.23" y="252.10" width="31.8" height="153.90" fill="none" stroke="#fff" stroke-width="1.4"/>
<rect x="897.33" y="253.2" width="29.6" height="76.20" fill="#d9d9d9" fill-opacity="0.7"/>
<rect x="897.33" y="253.2" width="29.6" height="76.20" fill="url(#hx7)" stroke="#000" stroke-width="1.1"/>
<rect x="897.33" y="329.4" width="29.6" height="25.60" fill="#ffe873" stroke="#000" stroke-width="1.1"/>
<rect x="897.33" y="355.0" width="29.6" height="38.00" fill="#6aabe0" stroke="#000" stroke-width="1.1"/>
<rect x="897.33" y="393.0" width="29.6" height="11.90" fill="#c87f93" stroke="#000" stroke-width="1.1"/>
<line x1="724.30" y1="136.60000000000002" x2="724.30" y2="406.0" stroke="#000" stroke-width="1.5" stroke-dasharray="3.8 3"/>
<line x1="792.60" y1="136.60000000000002" x2="792.60" y2="406.0" stroke="#000" stroke-width="1.5" stroke-dasharray="3.8 3"/>
<line x1="860.90" y1="136.60000000000002" x2="860.90" y2="406.0" stroke="#000" stroke-width="1.5" stroke-dasharray="3.8 3"/>
<text x="961.40" y="130.60" font-size="15.2" text-anchor="end" fill="#808080" textLength="128.9" lengthAdjust="spacingAndGlyphs">Percentage of GDP</text>
<text x="961.10" y="175.30" font-size="16.4" text-anchor="end" textLength="21.8" lengthAdjust="spacingAndGlyphs">2.5</text>
<text x="961.10" y="220.60" font-size="16.4" text-anchor="end" textLength="21.8" lengthAdjust="spacingAndGlyphs">2.0</text>
<text x="961.10" y="265.90" font-size="16.4" text-anchor="end" textLength="21.8" lengthAdjust="spacingAndGlyphs">1.5</text>
<text x="961.10" y="311.10" font-size="16.4" text-anchor="end" textLength="21.8" lengthAdjust="spacingAndGlyphs">1.0</text>
<text x="961.10" y="356.30" font-size="16.4" text-anchor="end" textLength="21.8" lengthAdjust="spacingAndGlyphs">0.5</text>
<text x="961.10" y="401.10" font-size="16.4" text-anchor="end" textLength="21.8" lengthAdjust="spacingAndGlyphs">0.0</text>
<text transform="translate(679.80 229.50) rotate(-90)" font-size="16.2" textLength="74.6" lengthAdjust="spacingAndGlyphs">Consumer</text>
<text transform="translate(712.20 229.50) rotate(-90)" font-size="16.2" textLength="87" lengthAdjust="spacingAndGlyphs">Commercial</text>
<text x="694.40" y="431.50" font-size="16.2" text-anchor="middle" textLength="35.8" lengthAdjust="spacingAndGlyphs">Asia-</text>
<text x="672.20" y="449.00" font-size="16.2" textLength="45.1" lengthAdjust="spacingAndGlyphs">Pacific</text>
<text x="718.60" y="440.60" font-size="11">5</text>
<text x="762.40" y="431.50" font-size="16.2" text-anchor="middle" textLength="30.5" lengthAdjust="spacingAndGlyphs">US /</text>
<text x="760.50" y="449.00" font-size="16.2" text-anchor="middle" textLength="54.1" lengthAdjust="spacingAndGlyphs">Canada</text>
<text x="807.90" y="431.50" font-size="15.6" textLength="41" lengthAdjust="spacingAndGlyphs">EMEA</text>
<text x="849.60" y="423.10" font-size="11">6</text>
<text x="899.50" y="431.50" font-size="16.2" text-anchor="middle" textLength="34.9" lengthAdjust="spacingAndGlyphs">Latin</text>
<text x="868.80" y="449.00" font-size="16.2" textLength="58" lengthAdjust="spacingAndGlyphs">America</text>
<text x="928.20" y="440.60" font-size="11">7</text>
<defs><pattern id="hx2" patternUnits="userSpaceOnUse" x="679" y="529" width="17.4" height="15.8"><path d="M-1 -0.908 L18.4 16.708 M-1 16.708 L18.4 -0.908" stroke="#6070c8" stroke-width="1.8" fill="none"/></pattern></defs>
<rect x="673.7" y="467.8" width="28.4" height="10.8" fill="#c87f93" stroke="#000" stroke-width="1.1"/>
<text x="710.60" y="478.70" font-size="16.3" textLength="114.4" lengthAdjust="spacingAndGlyphs">Credit card fees</text>
<rect x="673.7" y="488.6" width="28.4" height="10.8" fill="#6aabe0" stroke="#000" stroke-width="1.1"/>
<text x="710.60" y="499.50" font-size="16.3" textLength="161.5" lengthAdjust="spacingAndGlyphs">Domestic transactions</text>
<rect x="673.7" y="509.4" width="28.4" height="10.8" fill="#ffe873" stroke="#000" stroke-width="1.1"/>
<text x="710.60" y="520.30" font-size="16.3" textLength="188.7" lengthAdjust="spacingAndGlyphs">Cross-border transactions</text>
<rect x="673.7" y="530.2" width="28.4" height="10.8" fill="url(#hx2)" stroke="#000" stroke-width="1.1"/>
<text x="710.60" y="541.10" font-size="16.3" textLength="159.8" lengthAdjust="spacingAndGlyphs">Credit-related income</text>
<text x="871.40" y="532.70" font-size="11">8</text>
<text x="2.50" y="573.70" font-size="14.7" textLength="181.6" lengthAdjust="spacingAndGlyphs">EAP = East Asia and Pacific;</text>
<text x="189.10" y="573.70" font-size="14.7" textLength="208.9" lengthAdjust="spacingAndGlyphs">ECA = Europe and Central Asia;</text>
<text x="401.70" y="573.70" font-size="14.7" textLength="266.1" lengthAdjust="spacingAndGlyphs">EMEA = Europe, Middle East and Africa;</text>
<text x="672.80" y="573.70" font-size="14.7" textLength="208.4" lengthAdjust="spacingAndGlyphs">HI OECD = high-income OECD;</text>
<text x="886.20" y="573.70" font-size="14.7" textLength="77.8" lengthAdjust="spacingAndGlyphs">LAC = Latin</text>
<text x="2.50" y="594.30" font-size="14.7" textLength="189.0" lengthAdjust="spacingAndGlyphs">America and the Caribbean;</text>
<text x="197.80" y="594.30" font-size="14.7" textLength="263.6" lengthAdjust="spacingAndGlyphs">MENA = Middle East and North Africa;</text>
<text x="465.10" y="594.30" font-size="14.7" textLength="181.1" lengthAdjust="spacingAndGlyphs">SSA = sub–Saharan Africa.</text>
<text x="3.00" y="622.60" font-size="10.4">1</text>
<text x="16.20" y="627.60" font-size="14.7" textLength="98.2" lengthAdjust="spacingAndGlyphs">Data for 2017.</text>
<text x="133.00" y="622.60" font-size="10.4">2</text>
<text x="147.30" y="627.60" font-size="14.7" textLength="256.9" lengthAdjust="spacingAndGlyphs">Middle East, Russia and South Africa.</text>
<text x="422.30" y="622.60" font-size="10.4">3</text>
<text x="437.00" y="627.60" font-size="14.7" textLength="98.2" lengthAdjust="spacingAndGlyphs">Data for 2018.</text>
<text x="553.00" y="622.60" font-size="10.4">4</text>
<text x="567.00" y="627.60" font-size="14.7" textLength="395.5" lengthAdjust="spacingAndGlyphs">The regional GDP equals the sum of individual countries’</text>
<text x="2.50" y="648.30" font-size="14.7" textLength="32.3" lengthAdjust="spacingAndGlyphs">GDP.</text>
<text x="53.00" y="643.30" font-size="10.4">5</text>
<text x="67.20" y="648.30" font-size="14.7" textLength="396.7" lengthAdjust="spacingAndGlyphs">AU, CN, HK, IN, ID, JP, KR, MY, NZ, PH, RU, SG, TH and TW.</text>
<text x="483.00" y="643.30" font-size="10.4">6</text>
<text x="496.90" y="648.30" font-size="14.7" textLength="463.6" lengthAdjust="spacingAndGlyphs">AT, BE, CH, CY, CZ, DE, DK, EE, ES, FI, FR, GB, GR, HU, IE, IT, LT, LU, LV,</text>
<text x="2.50" y="668.90" font-size="14.7" textLength="311.4" lengthAdjust="spacingAndGlyphs">MT, NL, NO, PL, PT, SA, SE, SI, SK, TR and ZA.</text>
<text x="332.50" y="663.90" font-size="10.4">7</text>
<text x="346.50" y="668.90" font-size="14.7" textLength="187.7" lengthAdjust="spacingAndGlyphs">AR, BR, CL, CO, MX and PE.</text>
<text x="553.00" y="663.90" font-size="10.4">8</text>
<text x="567.00" y="668.90" font-size="14.7" textLength="397" lengthAdjust="spacingAndGlyphs">Credit-related income also counts some types of revenue</text>
<text x="2.50" y="689.80" font-size="14.7" textLength="241.0" lengthAdjust="spacingAndGlyphs">that may be considered an ancillary</text>
<text x="247.50" y="689.80" font-size="14.7" textLength="241.0" lengthAdjust="spacingAndGlyphs">service (credit) other than revenues</text>
<text x="492.00" y="689.80" font-size="14.7" textLength="157.9" lengthAdjust="spacingAndGlyphs">from payment services,</text>
<text x="654.90" y="689.80" font-size="14.7" textLength="307.7" lengthAdjust="spacingAndGlyphs">eg net interest income for revolving balances.</text>
<text x="2.50" y="723.10" font-size="14.7" textLength="395.0" lengthAdjust="spacingAndGlyphs">Sources: Beck et al (2000); McKinsey (2019b); World Bank,</text>
<text x="401.60" y="723.10" font-size="14.7" textLength="214.6" lengthAdjust="spacingAndGlyphs" style="font-style:italic">Global Payment Systems Survey</text>
<text x="621.80" y="723.10" font-size="14.7" textLength="47.4" lengthAdjust="spacingAndGlyphs">(GPSS).</text>
<text x="732.60" y="750.80" font-size="14.7" textLength="232" lengthAdjust="spacingAndGlyphs">© Bank for International Settlements</text>
</svg>
</body></html>
